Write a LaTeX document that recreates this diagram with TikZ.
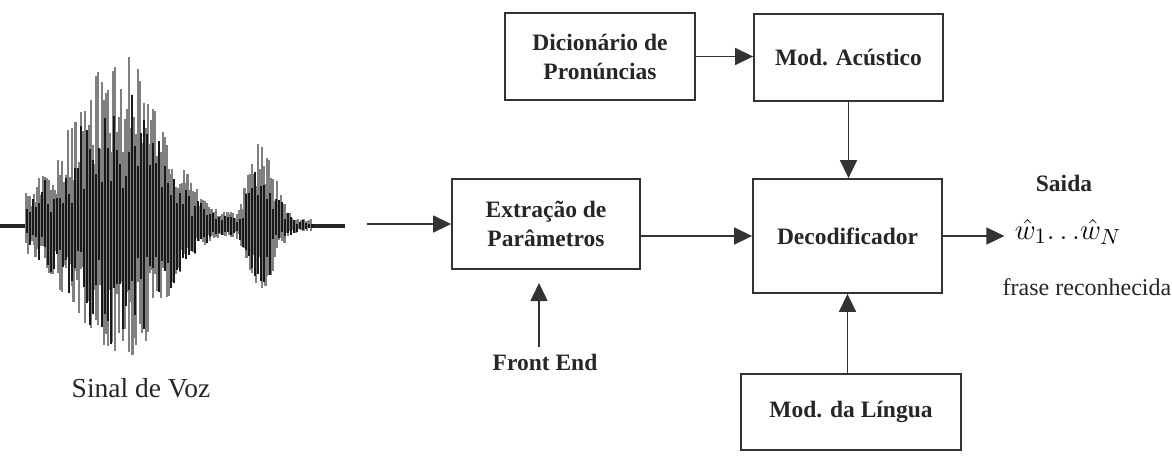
\documentclass[tikz,border=0pt]{standalone}
\usepackage{amsmath}
\usepackage{fontspec}
\setmainfont{Liberation Serif}
\usepackage{tikz}
\usetikzlibrary{arrows.meta, positioning}
\tikzstyle{block} = [draw = black!80, line width = 0.9pt, align = center, inner sep = 0pt, text = black!85, font = \bfseries\fontsize{11.75}{14.5}\selectfont]
\tikzstyle{arrow} = [line width = 0.75pt, draw = black!80, -{Triangle[length = 9pt, width = 8.5pt]}]
\tikzstyle{wave} = [line width = 1.1pt]

\begin{document}
\begin{tikzpicture}[x = 0.5pt, y = -0.5pt,
    declare function = {envup(\x) = 168*exp(-((\x-125)/(\x<125 ? 75 : 55))^2) + 80*exp(-((\x-262)/18)^2) + 7;}]
    \useasboundingbox (0, 0) rectangle (1172, 462);

    \draw[line width = 1.6pt, black!85] (0, 226) -- (30, 226);
    \draw[line width = 1.6pt, black!85] (300, 226) -- (345, 226);
    \pgfmathsetseed{17}
    \foreach \i in {0, ..., 150} {
        \pgfmathsetmacro{\xx}{26 + \i*1.9}
        \pgfmathsetmacro{\up}{envup(\xx)*(0.4 + 0.6*rnd)}
        \pgfmathsetmacro{\dn}{0.75*envup(\xx)*(0.4 + 0.6*rnd)}
        \draw[wave, black!50] (\xx, 226 - \up) -- (\xx, 226 + \dn);
    }
    \foreach \i in {0, ..., 95} {
        \pgfmathsetmacro{\xx}{27 + \i*3}
        \pgfmathsetmacro{\up}{envup(\xx)*(0.2 + 0.6*rnd)}
        \pgfmathsetmacro{\dn}{0.8*envup(\xx)*(0.2 + 0.7*rnd)}
        \draw[wave, black!90] (\xx, 226 - \up) -- (\xx, 226 + \dn);
    }
    \node[font = \fontsize{13.75}{15}\selectfont, text = black!85] (voz) at (141, 388) {Sinal de Voz};

    \node[block, minimum width = 95pt, minimum height = 43.5pt] (dic) at (600, 56.5) {Dicionário de\\Pronúncias};
    \node[block, minimum width = 94.5pt, minimum height = 43.5pt] (ac) at (848.5, 57.5) {Mod. Acústico};
    \node[block, minimum width = 94pt, minimum height = 45pt] (ext) at (546, 224) {Extração de\\Parâmetros};
    \node[block, minimum width = 94.5pt, minimum height = 57pt] (dec) at (847.5, 236) {Decodificador};
    \node[block, minimum width = 110pt, minimum height = 38pt] (lin) at (851, 412) {Mod. da Língua};

    \node[font = \bfseries\fontsize{11.75}{14}\selectfont, text = black!85] (fe) at (545, 362) {Front End};
    \node[inner sep = 5pt, font = \fontsize{15}{17}\selectfont] (out) at (1068, 232) {$\hat{w}_1{\ldots}\hat{w}_N$};
    \node[font = \bfseries\fontsize{11.75}{14}\selectfont, text = black!85] (saida) at (1064, 183) {Saida};
    \node[font = \fontsize{12}{14}\selectfont, text = black!85] (frase) at (1087, 287) {frase reconhecida};

    \coordinate (sig) at (367, 224);
    \coordinate (fetip) at (539, 283);

    \draw[arrow] (sig) -- (ext.west);
    \draw[arrow] (ext.east |- dec.west) -- (dec.west);
    \draw[arrow] (dic.east) -- (dic.east -| ac.west);
    \draw[arrow] (ac.south) -- (ac.south |- dec.north);
    \draw[arrow] (dec.south |- lin.north) -- (dec.south);
    \draw[arrow] (fetip |- fe.north) -- (fetip);
    \draw[arrow] (dec.east) -- (dec.east -| out.west);
\end{tikzpicture}
\end{document}
